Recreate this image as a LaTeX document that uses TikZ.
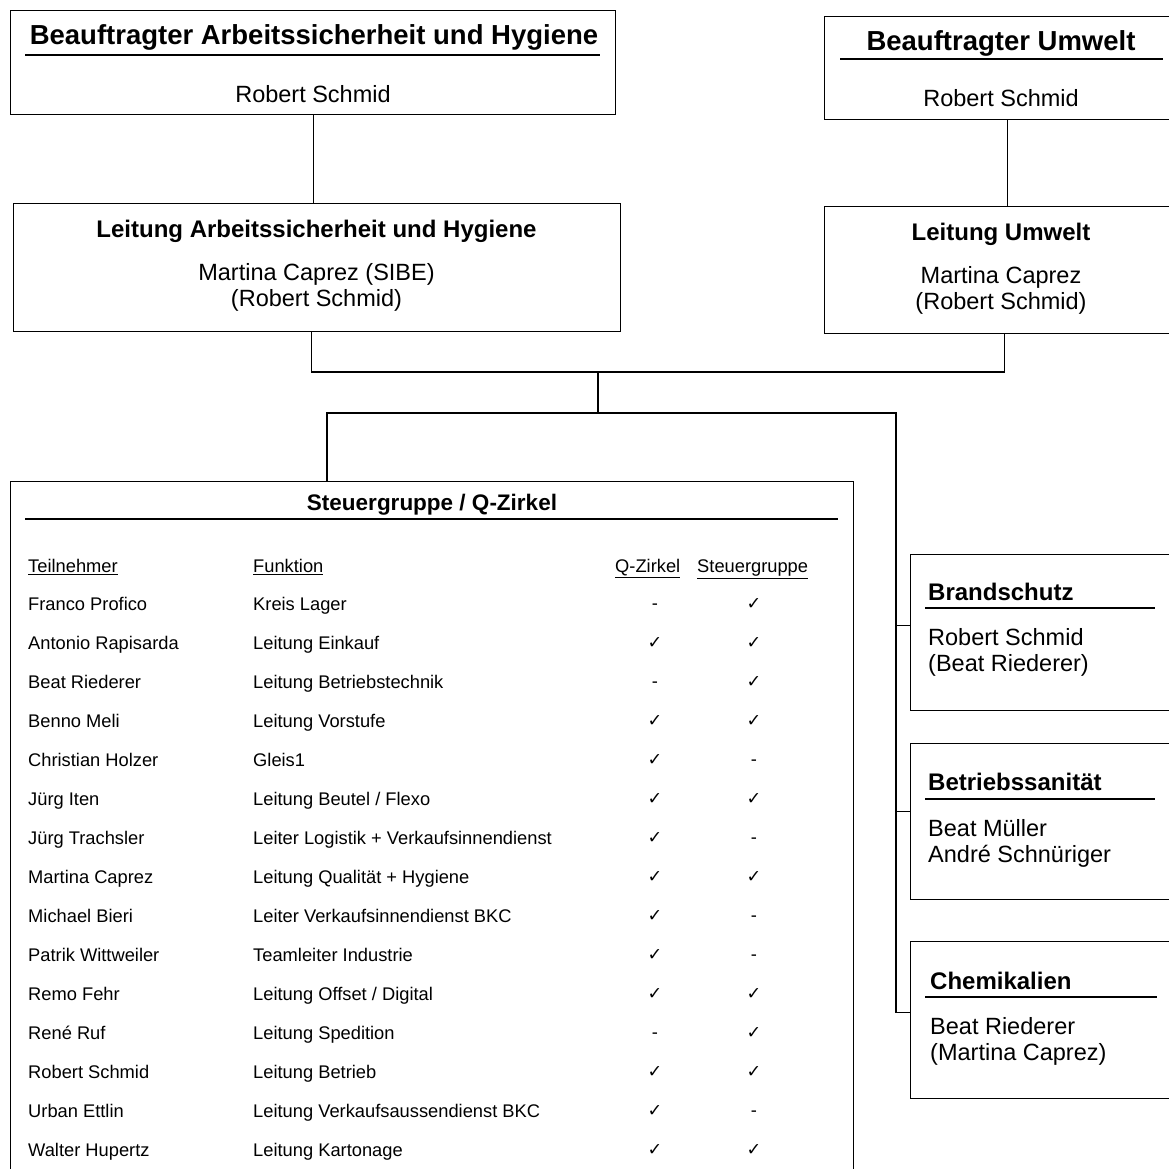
\documentclass[tikz,border=0pt]{standalone}
\usepackage{fontspec}
\setmainfont{Liberation Sans}
\newfontfamily\tickfont{DejaVu Sans}
\usetikzlibrary{positioning}
\tikzstyle{box}=[draw, line width=1.3pt, anchor=north west, inner sep=0pt]
\tikzstyle{wire}=[line width=1.3pt]
\tikzstyle{bigtitle}=[anchor=base, inner sep=0pt, font=\fontsize{27.5}{30}\selectfont\bfseries]
\tikzstyle{title}=[anchor=base, inner sep=0pt, font=\fontsize{24}{26}\selectfont\bfseries]
\tikzstyle{who}=[anchor=base, inner sep=0pt, font=\fontsize{23.5}{26}\selectfont]
\tikzstyle{lwho}=[who, anchor=base west]
\tikzstyle{cell}=[anchor=base west, inner sep=0pt, font=\fontsize{18.3}{20}\selectfont]
\tikzstyle{tickcell}=[anchor=center, inner sep=0pt, text height=10pt, text depth=0pt, font=\fontsize{18.3}{20}\selectfont]
\newcommand{\ja}{{\tickfont\fontsize{17.5}{17.5}\selectfont ✓}}
\newcommand{\nein}{-}

\begin{document}
\begin{tikzpicture}[x=1pt, y=-1pt]
        \useasboundingbox (0,0) rectangle (1169,1169);
        \clip (0,0) rectangle (1169,1169);
        % Beauftragte
        \node[box, minimum width=605, minimum height=104] (beaAS) at (10,10) {};
        \node[bigtitle] (beaASt) at (314,45) {Beauftragter Arbeitssicherheit und Hygiene};
        \draw[wire] (25,55) -- (600,55);
        \node[who] (beaASn) at (313,103) {Robert Schmid};
        \node[box, minimum width=366, minimum height=103] (beaUM) at (824,16) {};
        \node[bigtitle] (beaUMt) at (1001,50.5) {Beauftragter Umwelt};
        \draw[wire] (840,59) -- (1163,59);
        \node[who] (beaUMn) at (1001,107) {Robert Schmid};
        % Leitung
        \node[box, minimum width=607, minimum height=128] (leitAS) at (13,203) {};
        \node[title] (leitASt) at (316.5,237) {Leitung Arbeitssicherheit und Hygiene};
        \node[who] (leitASa) at (316.5,280) {Martina Caprez (SIBE)};
        \node[who] (leitASb) at (316.5,306) {(Robert Schmid)};
        \node[box, minimum width=366, minimum height=127] (leitUM) at (824,206) {};
        \node[title] (leitUMt) at (1001,240) {Leitung Umwelt};
        \node[who] (leitUMa) at (1001,283) {Martina Caprez};
        \node[who] (leitUMb) at (1001,309) {(Robert Schmid)};
        % Steuergruppe
        \node[box, minimum width=843, minimum height=720] (steuer) at (10,481) {};
        \node[anchor=base, inner sep=0pt, font=\fontsize{22.5}{24}\selectfont\bfseries] (steuert) at (432,510) {Steuergruppe / Q-Zirkel};
        \draw[wire] (25,519) -- (838,519);
        \node[cell] (hTn) at (28,572.5) {\underline{Teilnehmer}};
        \node[cell] (hFk) at (253,572.5) {\underline{Funktion}};
        \node[cell] (hQz) at (615,572.5) {\underline{Q-Zirkel}};
        \node[cell] (hSg) at (697,572.5) {\underline{Steuergruppe}};
        \foreach \wer/\was/\qz/\sg [count=\i from 0] in {
            Franco Profico/Kreis Lager/\nein/\ja,
            Antonio Rapisarda/Leitung Einkauf/\ja/\ja,
            Beat Riederer/Leitung Betriebstechnik/\nein/\ja,
            Benno Meli/Leitung Vorstufe/\ja/\ja,
            Christian Holzer/Gleis1/\ja/\nein,
            Jürg Iten/{Leitung Beutel / Flexo}/\ja/\ja,
            Jürg Trachsler/Leiter Logistik + Verkaufsinnendienst/\ja/\nein,
            Martina Caprez/Leitung Qualität + Hygiene/\ja/\ja,
            Michael Bieri/Leiter Verkaufsinnendienst BKC/\ja/\nein,
            Patrik Wittweiler/Teamleiter Industrie/\ja/\nein,
            Remo Fehr/{Leitung Offset / Digital}/\ja/\ja,
            René Ruf/Leitung Spedition/\nein/\ja,
            Robert Schmid/Leitung Betrieb/\ja/\ja,
            Urban Ettlin/Leitung Verkaufsaussendienst BKC/\ja/\nein,
            Walter Hupertz/Leitung Kartonage/\ja/\ja} {
            \node[cell] (tn\i) at (28,610.5+39*\i) {\wer};
            \node[cell] (fk\i) at (253,610.5+39*\i) {\was};
            \node[tickcell] (qz\i) at (655,604+39*\i) {\qz};
            \node[tickcell] (sg\i) at (754,604+39*\i) {\sg};
        }
        % Beauftragte Personen
        \node[box, minimum width=280, minimum height=156] (brand) at (910,554) {};
        \node[title, anchor=base west] (brandt) at (928,600) {Brandschutz};
        \draw[wire] (925,608) -- (1155,608);
        \node[lwho] (branda) at (928,645) {Robert Schmid};
        \node[lwho] (brandb) at (928,671) {(Beat Riederer)};
        \node[box, minimum width=280, minimum height=156] (sanit) at (910,743) {};
        \node[title, anchor=base west] (sanitt) at (928,790) {Betriebssanität};
        \draw[wire] (925,799) -- (1155,799);
        \node[lwho] (sanita) at (928,836) {Beat Müller};
        \node[lwho] (sanitb) at (928,862) {André Schnüriger};
        \node[box, minimum width=280, minimum height=157] (chem) at (910,941) {};
        \node[title, anchor=base west] (chemt) at (930,989) {Chemikalien};
        \draw[wire] (925,997) -- (1157,997);
        \node[lwho] (chema) at (930,1034) {Beat Riederer};
        \node[lwho] (chemb) at (930,1060) {(Martina Caprez)};
        % Verbindungen
        \coordinate (hub) at (598,372);
        \coordinate (split) at (598,413);
        \coordinate (steuerTop) at (327,481);
        \draw[wire] (beaAS.south) -- (beaAS.south |- leitAS.north);
        \draw[wire] (beaUM.south) -- (leitUM.north);
        \draw[wire] ([xshift=-6pt]leitAS.south) |- (hub) -| ([xshift=-3pt]leitUM.south);
        \draw[wire] (hub) -- (split);
        \draw[wire] (split) -| (steuerTop);
        \draw[wire] (split) -| ([xshift=-14pt, yshift=7.5pt]chem.west) -- ([yshift=7.5pt]chem.west);
        \draw[wire] ([yshift=7pt]brand.west) -- ++(-14,0);
        \draw[wire] ([yshift=10pt]sanit.west) -- ++(-14,0);
    \end{tikzpicture}
\end{document}
